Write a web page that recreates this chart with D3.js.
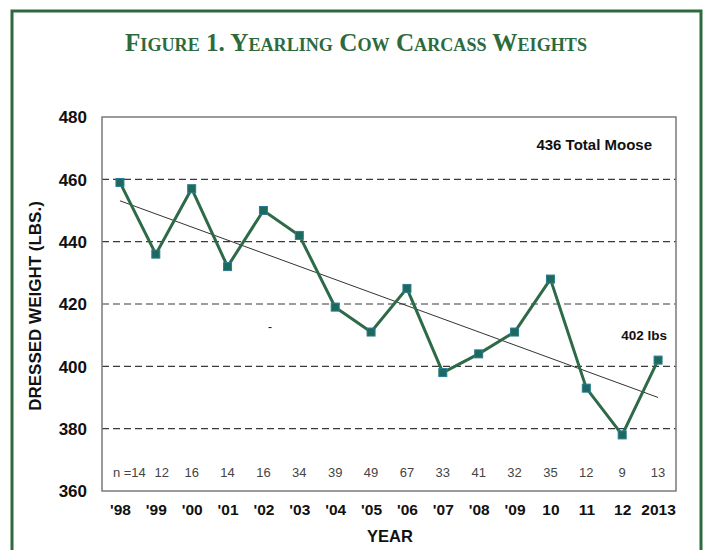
<!DOCTYPE html>
<html>
<head>
<meta charset="utf-8">
<script src="https://cdn.jsdelivr.net/npm/d3@7"></script>
<style>
  body { margin: 0; background: #fff; }
</style>
</head>
<body>
<div id="chart"></div>
<script>
// chart data
var years = ["'98", "'99", "'00", "'01", "'02", "'03", "'04", "'05", "'06", "'07", "'08", "'09", "10", "11", "12", "2013"];
var weights = [459, 436, 457, 432, 450, 442, 419, 411, 425, 398, 404, 411, 428, 393, 378, 402];
var counts = ["n =14", "12", "16", "14", "16", "34", "39", "49", "67", "33", "41", "32", "35", "12", "9", "13"];
var yTicks = [360, 380, 400, 420, 440, 460, 480];
var gridValues = [380, 400, 420, 440, 460];

var width = 703, height = 550;
var plot = {left: 102, top: 117, right: 676, bottom: 491};
var green = "#2d6a3c";

var svg = d3.select("#chart").append("svg")
    .attr("width", width)
    .attr("height", height);

// outer green frame
svg.append("rect")
    .attr("x", 12)
    .attr("y", 11)
    .attr("width", 689)
    .attr("height", 560)
    .attr("fill", "none")
    .attr("stroke", green)
    .attr("stroke-width", 3);

svg.append("text")
    .attr("x", 125)
    .attr("y", 51)
    .attr("textLength", 462)
    .attr("lengthAdjust", "spacingAndGlyphs")
    .style("font-family", "'Liberation Serif', 'DejaVu Serif', serif")
    .style("font-size", "25px")
    .style("font-weight", "bold")
    .style("font-variant", "small-caps")
    .style("fill", green)
    .text("Figure 1. Yearling Cow Carcass Weights");

var x = d3.scalePoint()
    .domain(years)
    .range([plot.left, plot.right])
    .padding(0.5);

var y = d3.scaleLinear()
    .domain([360, 480])
    .range([plot.bottom, plot.top]);

// dashed gridlines
svg.selectAll("line.grid")
    .data(gridValues)
    .enter()
    .append("line")
    .attr("class", "grid")
    .attr("x1", plot.left)
    .attr("x2", plot.right)
    .attr("y1", function(d) { return y(d); })
    .attr("y2", function(d) { return y(d); })
    .attr("stroke", "#3a3a3a")
    .attr("stroke-width", 1.2)
    .attr("stroke-dasharray", "7,4");

// plot box
svg.append("rect")
    .attr("x", plot.left)
    .attr("y", plot.top)
    .attr("width", plot.right - plot.left)
    .attr("height", plot.bottom - plot.top)
    .attr("fill", "none")
    .attr("stroke", "#7a7a7a")
    .attr("stroke-width", 1.5);

// y axis labels
var yAxis = d3.axisLeft(y).tickValues(yTicks).tickSize(0).tickPadding(15);
var yg = svg.append("g")
    .attr("transform", "translate(" + plot.left + ",0)")
    .call(yAxis);
yg.select(".domain").remove();
yg.selectAll("text")
    .attr("dy", "0.35em")
    .style("font-family", "'Liberation Sans', Arial, sans-serif")
    .style("font-size", "17px")
    .style("font-weight", "bold")
    .style("fill", "#111");

// x axis labels
var xAxis = d3.axisBottom(x).tickSize(0).tickPadding(13);
var xg = svg.append("g")
    .attr("transform", "translate(0," + plot.bottom + ")")
    .call(xAxis);
xg.select(".domain").remove();
xg.selectAll("text")
    .style("font-family", "'Liberation Sans', Arial, sans-serif")
    .style("font-size", "15.5px")
    .style("font-weight", "bold")
    .style("fill", "#111");

svg.append("text")
    .attr("x", 390)
    .attr("y", 542)
    .attr("text-anchor", "middle")
    .style("font-family", "'Liberation Sans', Arial, sans-serif")
    .style("font-size", "16.5px")
    .style("font-weight", "bold")
    .style("fill", "#111")
    .text("YEAR");

svg.append("text")
    .attr("transform", "translate(41,306) rotate(-90)")
    .attr("text-anchor", "middle")
    .style("font-family", "'Liberation Sans', Arial, sans-serif")
    .style("font-size", "17px")
    .style("font-weight", "bold")
    .style("fill", "#111")
    .text("DRESSED WEIGHT (LBS.)");

// sample sizes
svg.selectAll("text.count")
    .data(counts)
    .enter()
    .append("text")
    .attr("class", "count")
    .attr("x", function(d, i) {
        if (i == 0) return x(years[i]) - 7;
        if (i == 1) return x(years[i]) + 6;
        return x(years[i]);
    })
    .attr("y", 477)
    .attr("text-anchor", function(d, i) { return i == 0 ? "start" : "middle"; })
    .style("font-family", "'Liberation Sans', Arial, sans-serif")
    .style("font-size", "13px")
    .style("fill", "#444")
    .text(function(d) { return d; });

// trend line (least squares)
var xs = d3.range(weights.length);
var mx = d3.mean(xs), my = d3.mean(weights);
var sxy = d3.sum(xs, function(i) { return (i - mx) * (weights[i] - my); });
var sxx = d3.sum(xs, function(i) { return (i - mx) * (i - mx); });
var slope = sxy / sxx, intercept = my - slope * mx;

svg.append("line")
    .attr("x1", x(years[0]))
    .attr("y1", y(intercept))
    .attr("x2", x(years[years.length - 1]))
    .attr("y2", y(intercept + slope * (years.length - 1)))
    .attr("stroke", "#333")
    .attr("stroke-width", 1);

// weight line
var line = d3.line()
    .x(function(d, i) { return x(years[i]); })
    .y(function(d) { return y(d); });

svg.append("path")
    .datum(weights)
    .attr("d", line)
    .attr("fill", "none")
    .attr("stroke", "#2e6a47")
    .attr("stroke-width", 3)
    .attr("stroke-linejoin", "miter");

svg.selectAll("rect.pt")
    .data(weights)
    .enter()
    .append("rect")
    .attr("class", "pt")
    .attr("x", function(d, i) { return x(years[i]) - 4; })
    .attr("y", function(d) { return y(d) - 4; })
    .attr("width", 8)
    .attr("height", 8)
    .attr("fill", "#1d6a5c")
    .attr("stroke", "#2b7c92")
    .attr("stroke-width", 1);

svg.append("text")
    .attr("x", 652)
    .attr("y", 150)
    .attr("text-anchor", "end")
    .style("font-family", "'Liberation Sans', Arial, sans-serif")
    .style("font-size", "15px")
    .style("font-weight", "bold")
    .style("fill", "#111")
    .text("436 Total Moose");

svg.append("text")
    .attr("x", 667)
    .attr("y", 340)
    .attr("text-anchor", "end")
    .style("font-family", "'Liberation Sans', Arial, sans-serif")
    .style("font-size", "13.5px")
    .style("font-weight", "bold")
    .style("fill", "#111")
    .text("402 lbs");

svg.append("text")
    .attr("x", 270)
    .attr("y", 331)
    .attr("text-anchor", "middle")
    .style("font-family", "'Liberation Sans', Arial, sans-serif")
    .style("font-size", "12px")
    .style("fill", "#111")
    .text("-");
</script>
</body>
</html>
